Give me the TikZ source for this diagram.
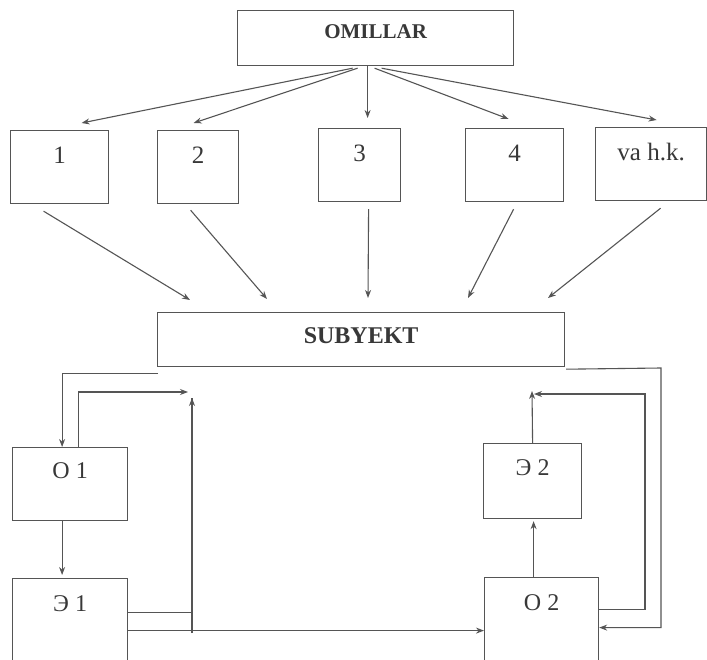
\documentclass[tikz,border=0pt]{standalone}
\usepackage{fontspec}
\setmainfont{Liberation Serif}
\usetikzlibrary{arrows.meta}
\definecolor{linec}{HTML}{555555}
\definecolor{textc}{HTML}{383838}
\begin{document}
\begin{tikzpicture}[x=1pt,y=-1pt,
  every node/.style={text=textc},
  box/.style={draw=linec,line width=1.2pt,inner sep=0pt,anchor=north west,align=center},
  numbox/.style={box,font=\fontsize{25}{28}\selectfont,text height=33pt,text depth=40pt},
  titlebox/.style={box,font=\bfseries},
  lowbox/.style={box,font=\fontsize{24}{28}\selectfont,text height=32pt},
  arr/.style={draw=linec,line width=1.1pt,-{Stealth[length=8pt,width=6pt]}},
  ln/.style={draw=linec,line width=1.1pt}]
\useasboundingbox (0,0) rectangle (707,660);
\clip (0,0) rectangle (707,660);
\fill[white] (0,0) rectangle (707,660);

% top title
\node[titlebox,minimum width=276pt,text height=28pt,text depth=27pt,font=\bfseries\fontsize{21}{24}\selectfont] (om) at (237,10) {OMILLAR};

% factor boxes
\node[numbox,minimum width=98pt]  (b1) at (10,130)  {1};
\node[numbox,minimum width=81pt]  (b2) at (157,130) {2};
\node[numbox,minimum width=82pt]  (b3) at (318,128) {3};
\node[numbox,minimum width=98pt]  (b4) at (465,128) {4};
\node[numbox,minimum width=111pt] (b5) at (595,127) {va h.k.};

% subject
\node[titlebox,minimum width=407pt,text height=31pt,text depth=23pt,font=\bfseries\fontsize{24}{28}\selectfont] (sub) at (157,312) {SUBYEKT};

% lower boxes
\node[lowbox,minimum width=115pt,text height=31pt,text depth=42pt] (o1) at (12,447) {O 1};
\node[lowbox,minimum width=115pt,text height=33pt,text depth=57pt] (e1) at (12,578) {Э 1};
\node[lowbox,minimum width=98pt,text height=32pt,text depth=43pt]  (e2) at (483,443) {Э 2};
\node[lowbox,minimum width=114pt,text height=33pt,text depth=57pt] (o2) at (484,577) {O 2};

% free ends
\coordinate (c1) at (188,392);
\coordinate (c2) at (192,398);
\coordinate (c3) at (192,633);
\coordinate (c4) at (661,368);
\coordinate (c5) at (645,394);
\coordinate (c6) at (534,394);
\coordinate (c7) at (532,391);

% OMILLAR -> factors
\draw[arr] ([shift={(-23,2)}]om.south) -- ([shift={(22,-7)}]b1.north);
\draw[arr] ([shift={(-18,2)}]om.south) -- ([shift={(-4.5,-7)}]b2.north);
\draw[arr] ([shift={(-8,0)}]om.south) -- ([shift={(8,-10)}]b3.north);
\draw[arr] ([shift={(-1,2)}]om.south) -- ([shift={(-6,-9)}]b4.north);
\draw[arr] ([shift={(6,2)}]om.south) -- ([shift={(5.5,-7)}]b5.north);

% factors -> SUBYEKT
\draw[arr] ([shift={(-16,7)}]b1.south) -- ([shift={(33,-12)}]sub.north west);
\draw[arr] ([shift={(-7.5,6)}]b2.south) -- ([shift={(110,-13)}]sub.north west);
\draw[arr] ([shift={(9,7)}]b3.south) -- ([shift={(211,-14)}]sub.north west);
\draw[arr] ([shift={(-1,7)}]b4.south) -- ([shift={(311,-14)}]sub.north west);
\draw[arr] ([shift={(9.5,7)}]b5.south) -- ([shift={(391,-14)}]sub.north west);

% left loop
\draw[arr] ([shift={(1,6)}]sub.south west) -| ([xshift=-8pt]o1.north);
\draw[arr] ([xshift=8pt]o1.north) |- (c1);
\draw[arr] ([xshift=-8pt]o1.south) -- ([shift={(-8,-3)}]e1.north);
\draw[ln] ([shift={(0,-11)}]e1.east) -| (c2);
\draw[arr] (c3) -- (c2);
\draw[arr] ([shift={(0,7)}]e1.east) -- ([shift={(0,8)}]o2.west);

% right loop
\draw[arr] ([shift={(1,2)}]sub.south east) -- (c4) |- ([shift={(0,5)}]o2.east);
\draw[arr] ([shift={(0,-13)}]o2.east) -| (c5) -- (c6);
\draw[arr] ([xshift=-8pt]o2.north) -- ([shift={(1,2)}]e2.south);
\draw[arr] (e2.north) -- (c7);
\end{tikzpicture}
\end{document}
